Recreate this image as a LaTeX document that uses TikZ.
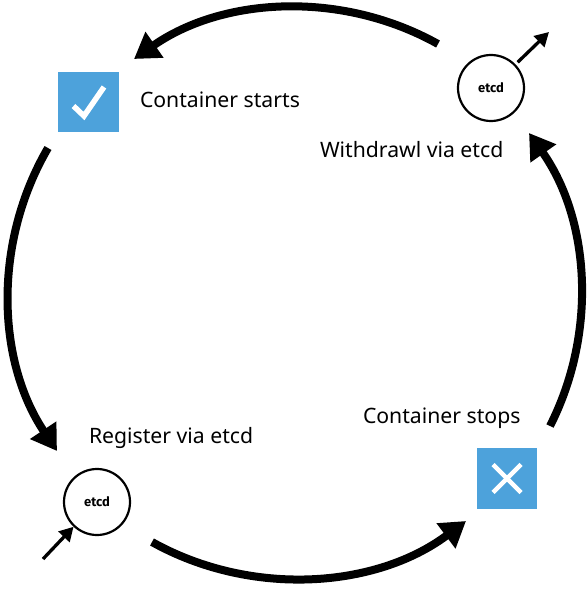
\documentclass[tikz,border=0pt]{standalone}
\usepackage{fontspec}
\setmainfont{Noto Sans}
\newfontfamily\etcdfont{Fira Sans}
\usetikzlibrary{arrows.meta}
\definecolor{boxblue}{HTML}{4DA2DB}
\tikzset{
  label text/.style={anchor=base west,inner sep=0pt,outer sep=0pt,font=\fontsize{21.2}{25}\selectfont},
  etcd circle/.style={circle,draw=black,line width=2.2pt,minimum size=66pt,inner sep=0pt,font=\etcdfont\bfseries\fontsize{13}{15}\selectfont},
  status box/.style={rectangle,fill=boxblue,minimum size=60.5pt,inner sep=0pt,outer sep=0pt},
  big arrow/.style={line width=8pt,-{Triangle[length=25pt,width=30pt]}},
  small arrow/.style={line width=3.3pt,-{Triangle[length=14pt,width=15pt]}},
  mark line/.style={draw=white,line width=5.5pt}
}
\begin{document}
\begin{tikzpicture}[x=1pt,y=1pt]
\useasboundingbox (0,-591) rectangle (588,0);
\node[status box] (start) at (88.5,-101.8) {};
\node[status box] (stop) at (507,-478.5) {};
\node[etcd circle] (withdraw) at (491,-88) {etcd};
\node[etcd circle] (register) at (97,-502) {etcd};
\node[label text] (tstart) at (140,-108) {Container starts};
\node[label text] (twithdraw) at (320,-157) {Withdrawl via etcd};
\node[label text] (tregister) at (89,-443) {Register via etcd};
\node[label text] (tstop) at (363,-423) {Container stops};
\coordinate (a1s) at (438,-44);
\coordinate (a1e) at (134,-59);
\coordinate (a2s) at (48,-148);
\coordinate (a2e) at (57,-451);
\coordinate (a3s) at (152,-542);
\coordinate (a3e) at (466,-521);
\coordinate (a4s) at (550,-426);
\coordinate (a4e) at (529,-133);
\draw[big arrow] (a1s) to[bend right=32,looseness=.92] (a1e);
\draw[big arrow] (a2s) to[bend right=32,looseness=.92] (a2e);
\draw[big arrow] (a3s) to[bend right=33,looseness=.92] (a3e);
\draw[big arrow] (a4s) to[bend right=31,looseness=.92] (a4e);
\coordinate (wout) at (549,-32);
\coordinate (rin) at (43,-559);
\draw[small arrow,shorten <=3pt] (withdraw) -- (wout);
\draw[small arrow] (rin) -- (register);
\draw[mark line] (73.5,-106) -- (84,-116) -- (104,-87);
\draw[mark line,line width=4.5pt] (493,-464.5) -- (521,-492.5);
\draw[mark line,line width=4.5pt] (493,-492.5) -- (521,-464.5);
\end{tikzpicture}
\end{document}
